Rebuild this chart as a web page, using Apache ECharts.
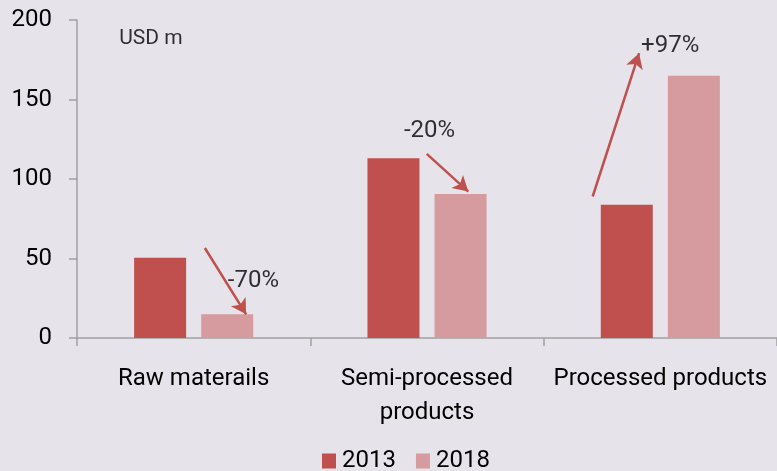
<!DOCTYPE html>
<html>
<head>
<meta charset="utf-8">
<script src="https://cdn.jsdelivr.net/npm/echarts@6/dist/echarts.min.js"></script>
<style>
  html, body { margin: 0; padding: 0; background: #E6E3EA; }
  #chart { width: 777px; height: 471px; }
</style>
</head>
<body>
<div id="chart"></div>
<script>
// Export values by product group, USD million
const categories = ['Raw materails', 'Semi-processed\nproducts', 'Processed products'];
const years = ['2013', '2018'];
const values2013 = [50.5, 113, 83.8];
const values2018 = [15, 90.5, 165];
const yTicks = { min: 0, max: 200, interval: 50 };
const unitLabel = 'USD m';

// Change arrows, in [category position, value] space (category i spans i..i+1)
const arrowStarts = [[0.548, 56.6], [1.499, 115.8], [2.210, 89.0]];
const arrowEnds   = [[0.725, 14.9], [1.677, 92.1], [2.409, 179.1]];
const changeLabelPos = [[0.756, 36.0], [1.511, 130.0], [2.542, 183.7]];
const unitLabelPos = [0.317, 188.5];

const RED = '#C0504D';
const PINK = '#D59B9E';
const FONT = 'Roboto, "Noto Sans", sans-serif';

// Percent change between the two years, e.g. "-70%" / "+97%"
const changeText = values2013.map((a, i) => {
  const pct = Math.round((values2018[i] / a - 1) * 100);
  return (pct > 0 ? '+' : '') + pct + '%';
});

const annotationData = changeLabelPos.map((p, i) => ({
  value: p,
  label: { formatter: changeText[i] }
}));
annotationData.push({
  value: unitLabelPos,
  label: { formatter: unitLabel, fontSize: 21 }
});

const chart = echarts.init(document.getElementById('chart'), null, { renderer: 'canvas' });

chart.setOption({
  backgroundColor: '#E6E3EA',
  animation: false,
  textStyle: { fontFamily: FONT, color: '#000' },
  grid: { left: 77, right: -5, top: 20, bottom: 133 },
  legend: {
    data: years,
    left: 322,
    top: 449,
    padding: 0,
    icon: 'rect',
    itemWidth: 14,
    itemHeight: 15,
    itemGap: 20,
    textStyle: { fontFamily: FONT, fontSize: 24, color: '#000', padding: [0, 0, 0, 1] }
  },
  xAxis: [
    {
      type: 'category',
      data: categories,
      axisLine: { lineStyle: { color: '#A0A0A0', width: 1.5 } },
      axisTick: { show: true, length: 8, alignWithLabel: false, lineStyle: { color: '#A0A0A0', width: 1.5 } },
      axisLabel: { fontFamily: FONT, fontSize: 24, color: '#000', margin: 24, lineHeight: 34, interval: 0 }
    },
    {
      type: 'value',
      min: 0,
      max: 3,
      show: false
    }
  ],
  yAxis: {
    type: 'value',
    min: yTicks.min,
    max: yTicks.max,
    interval: yTicks.interval,
    splitLine: { show: false },
    axisLine: { show: true, lineStyle: { color: '#A0A0A0', width: 1.5 } },
    axisTick: { show: true, length: 8, lineStyle: { color: '#A0A0A0', width: 1.5 } },
    axisLabel: { fontFamily: FONT, fontSize: 24, color: '#000', margin: 25 }
  },
  series: [
    {
      name: years[0],
      type: 'bar',
      data: values2013,
      barWidth: 52,
      barGap: '29%',
      itemStyle: { color: RED }
    },
    {
      name: years[1],
      type: 'bar',
      data: values2018,
      barWidth: 52,
      barGap: '29%',
      itemStyle: { color: PINK }
    },
    {
      // percent-change labels and arrows
      type: 'scatter',
      xAxisIndex: 1,
      yAxisIndex: 0,
      symbolSize: 0,
      silent: true,
      data: annotationData,
      label: {
        show: true,
        position: 'inside',
        fontFamily: FONT,
        fontSize: 24,
        color: '#000'
      },
      markLine: {
        silent: true,
        symbol: ['none', 'arrow'],
        symbolSize: [13, 15],
        label: { show: false },
        lineStyle: { color: RED, width: 2.5, type: 'solid' },
        data: arrowStarts.map((s, i) => [{ coord: s }, { coord: arrowEnds[i] }])
      }
    }
  ]
});
</script>
</body>
</html>
